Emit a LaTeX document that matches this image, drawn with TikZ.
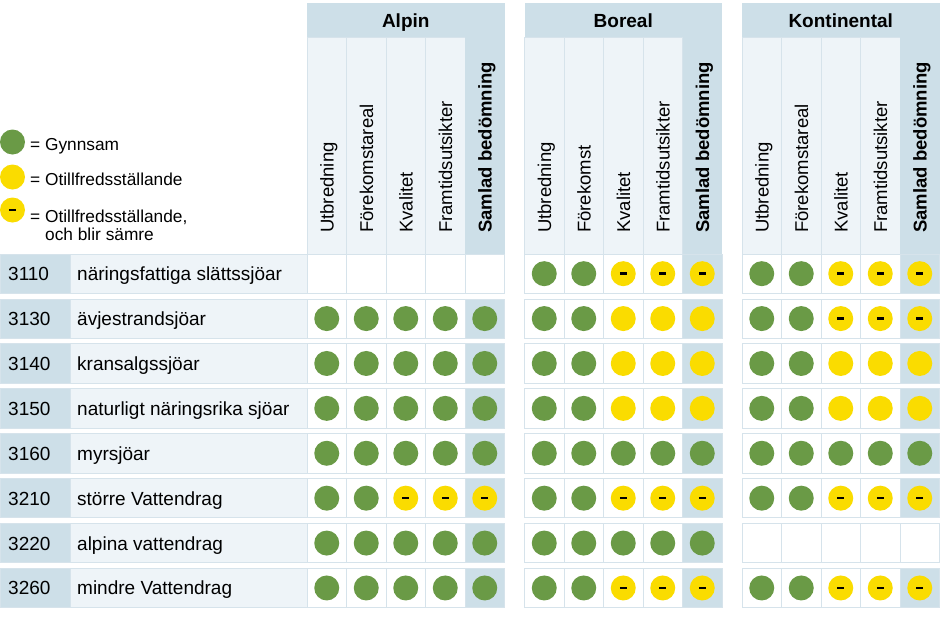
\documentclass[tikz,border=0pt]{standalone}
\usepackage{fontspec}
\setmainfont{Liberation Sans}
\definecolor{hdr}{HTML}{CDDFE8}
\definecolor{lite}{HTML}{EEF4F8}
\definecolor{bord}{HTML}{D6E3EB}
\definecolor{gr}{HTML}{6A9A46}
\definecolor{ye}{HTML}{FADC00}
\tikzset{
 cellbox/.style={draw=bord, line width=0.8pt, fill=white},
 sambox/.style={draw=bord, line width=0.8pt, fill=hdr},
 gdot/.style={circle, fill=gr, minimum size=25pt, inner sep=0pt},
 ydot/.style={circle, fill=ye, minimum size=25pt, inner sep=0pt},
 ddot/.style={ydot},
 rowtxt/.style={anchor=base west, inner sep=0pt, font=\fontsize{19}{21}\selectfont},
 legtxt/.style={anchor=base west, inner sep=0pt, font=\fontsize{17.3}{19}\selectfont},
 coltxt/.style={anchor=base west, inner sep=0pt, rotate=90, font=\fontsize{18.5}{20}\selectfont},
 samtxt/.style={anchor=base west, inner sep=0pt, rotate=90, font=\fontsize{18.5}{20}\selectfont\bfseries},
 grptxt/.style={anchor=base, inner sep=0pt, font=\fontsize{19}{21}\selectfont\bfseries},
}
\newcommand\mydot[4]{%
 \if#3G\node[gdot] (#4) at (#1,#2) {};\fi
 \if#3Y\node[ydot] (#4) at (#1,#2) {};\fi
 \if#3D\node[ddot] (#4) at (#1,#2) {\rule{7pt}{2.6pt}};\fi}
\newcommand\labelrow[3]{%
 \pgfmathsetmacro\yt{254+44.9*#1}%
 \pgfmathsetmacro\yc{\yt+19.65}%
 \path[fill=hdr, draw=bord, line width=0.8pt] (0,\yt) rectangle ++(70,39.3);
 \path[fill=lite, draw=bord, line width=0.8pt] (70,\yt) rectangle ++(237,39.3);
 \node[rowtxt] (k#2) at (8,\yc+7) {#2};
 \node[rowtxt] (n#2) at (77,\yc+7) {#3};}
\newcommand\grpcells[9]{%
 \pgfmathsetmacro\yt{254+44.9*#1}%
 \pgfmathsetmacro\yc{\yt+19.65}%
 \foreach \i in {0,1,2,3} {\path[cellbox] ({#4+39.5*\i},\yt) rectangle ++(39.5,39.3);}
 \if#9E\path[cellbox] ({#4+158},\yt) rectangle ++(39.5,39.3);
 \else\path[sambox] ({#4+158},\yt) rectangle ++(39.5,39.3);\fi
 \mydot{#4+19.75}{\yc}{#5}{c#2#31}
 \mydot{#4+59.25}{\yc}{#6}{c#2#32}
 \mydot{#4+98.75}{\yc}{#7}{c#2#33}
 \mydot{#4+138.25}{\yc}{#8}{c#2#34}
 \mydot{#4+177.75}{\yc}{#9}{c#2#35}}
\begin{document}
\begin{tikzpicture}[x=1pt,y=-1pt]
\useasboundingbox (0,0) rectangle (940,625);
\fill[white] (0,0) rectangle (940,625);
% headers
\foreach \x/\g/\t/\f in {307/a/Alpin/Förekomstareal, 524.5/b/Boreal/Förekomst, 742/k/Kontinental/Förekomstareal}{
  \path[fill=hdr] (\x,2.5) rectangle ++(197.5,34.5);
  \foreach \i in {0,1,2,3} {\path[fill=lite, draw=bord, line width=0.8pt] ({\x+39.5*\i},37) rectangle ++(39.5,217);}
  \path[fill=hdr] ({\x+158},37) rectangle ++(39.5,217);
  \node[grptxt] (t\g) at ({\x+98.75},27) {\t};
  \node[coltxt] (h\g1) at ({\x+19.75+6.8},233) {Utbredning};
  \node[coltxt] (h\g2) at ({\x+59.25+6.8},233) {\f};
  \node[coltxt] (h\g3) at ({\x+98.75+6.8},233) {Kvalitet};
  \node[coltxt] (h\g4) at ({\x+138.25+6.8},233) {Framtidsutsikter};
  \node[samtxt] (h\g5) at ({\x+177.75+6.8},233) {Samlad bedömning};
}
% legend
\node[gdot] (lgG) at (12.5,142) {};
\node[ydot] (lgY) at (12.5,177) {};
\node[ddot] (lgD) at (12.5,210) {\rule{7pt}{2.6pt}};
\node[legtxt] (lt1) at (30,150) {= Gynnsam};
\node[legtxt] (lt2) at (30,185) {= Otillfredsställande};
\node[legtxt] (lt3) at (30,222) {= Otillfredsställande,};
\node[legtxt] (lt4) at (45,240) {och blir sämre};
% rows
\labelrow{0}{3110}{näringsfattiga slättssjöar}
\grpcells{0}{3110}{a}{307}{E}{E}{E}{E}{E}
\grpcells{0}{3110}{b}{524.5}{G}{G}{D}{D}{D}
\grpcells{0}{3110}{k}{742}{G}{G}{D}{D}{D}
\labelrow{1}{3130}{ävjestrandsjöar}
\grpcells{1}{3130}{a}{307}{G}{G}{G}{G}{G}
\grpcells{1}{3130}{b}{524.5}{G}{G}{Y}{Y}{Y}
\grpcells{1}{3130}{k}{742}{G}{G}{D}{D}{D}
\labelrow{2}{3140}{kransalgssjöar}
\grpcells{2}{3140}{a}{307}{G}{G}{G}{G}{G}
\grpcells{2}{3140}{b}{524.5}{G}{G}{Y}{Y}{Y}
\grpcells{2}{3140}{k}{742}{G}{G}{Y}{Y}{Y}
\labelrow{3}{3150}{naturligt näringsrika sjöar}
\grpcells{3}{3150}{a}{307}{G}{G}{G}{G}{G}
\grpcells{3}{3150}{b}{524.5}{G}{G}{Y}{Y}{Y}
\grpcells{3}{3150}{k}{742}{G}{G}{Y}{Y}{Y}
\labelrow{4}{3160}{myrsjöar}
\grpcells{4}{3160}{a}{307}{G}{G}{G}{G}{G}
\grpcells{4}{3160}{b}{524.5}{G}{G}{G}{G}{G}
\grpcells{4}{3160}{k}{742}{G}{G}{G}{G}{G}
\labelrow{5}{3210}{större Vattendrag}
\grpcells{5}{3210}{a}{307}{G}{G}{D}{D}{D}
\grpcells{5}{3210}{b}{524.5}{G}{G}{D}{D}{D}
\grpcells{5}{3210}{k}{742}{G}{G}{D}{D}{D}
\labelrow{6}{3220}{alpina vattendrag}
\grpcells{6}{3220}{a}{307}{G}{G}{G}{G}{G}
\grpcells{6}{3220}{b}{524.5}{G}{G}{G}{G}{G}
\grpcells{6}{3220}{k}{742}{E}{E}{E}{E}{E}
\labelrow{7}{3260}{mindre Vattendrag}
\grpcells{7}{3260}{a}{307}{G}{G}{G}{G}{G}
\grpcells{7}{3260}{b}{524.5}{G}{G}{D}{D}{D}
\grpcells{7}{3260}{k}{742}{G}{G}{D}{D}{D}
\end{tikzpicture}
\end{document}
